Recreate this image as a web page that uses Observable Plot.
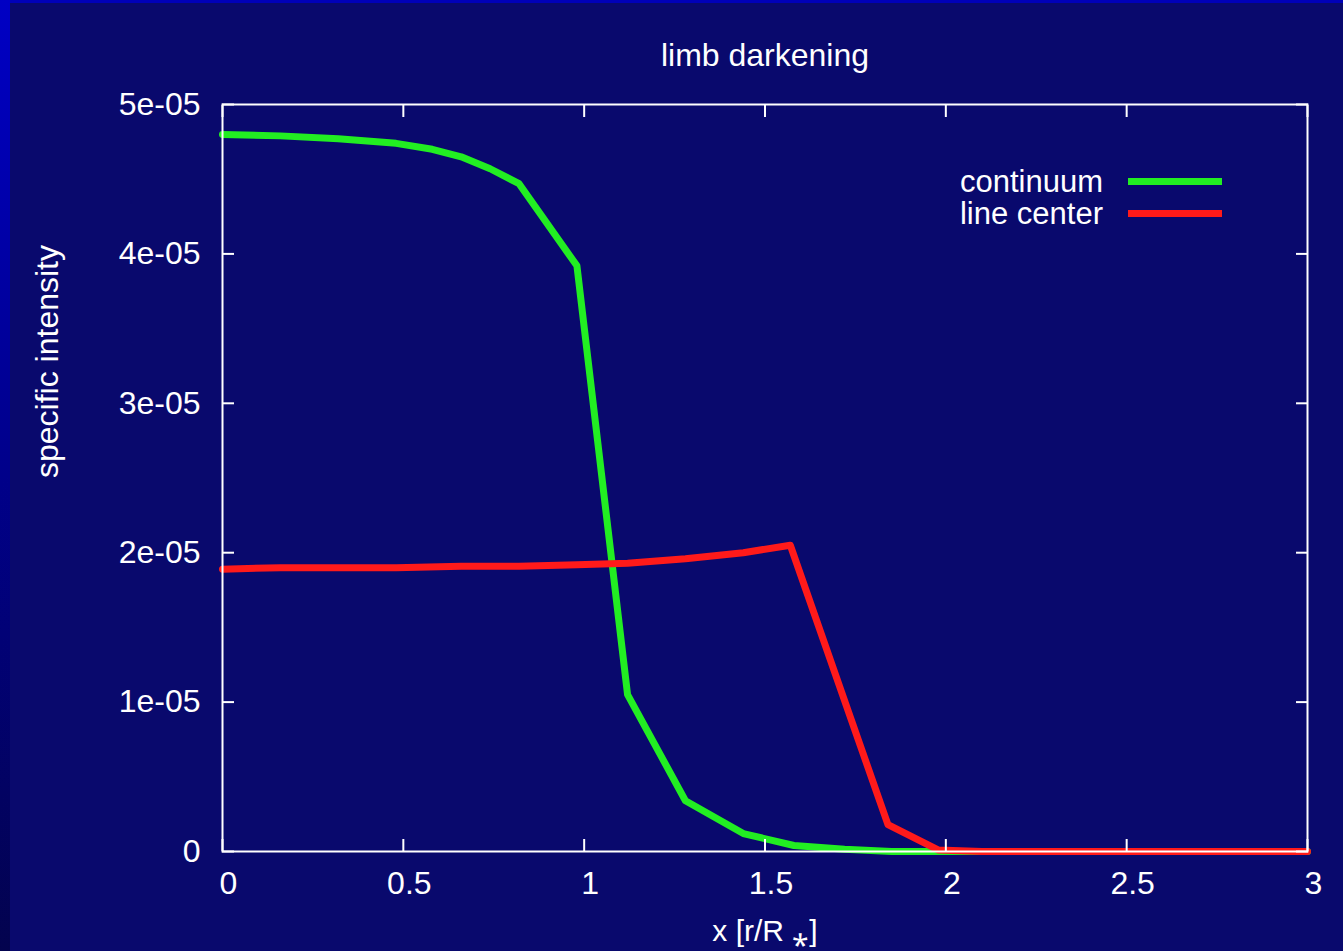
<!DOCTYPE html>
<html>
<head>
<meta charset="utf-8">
<script src="https://cdn.jsdelivr.net/npm/d3@7"></script>
<script src="https://cdn.jsdelivr.net/npm/@observablehq/plot@0.6"></script>
<style>
  html, body { margin: 0; padding: 0; background: #09096d; }
  #wrap { position: relative; width: 1343px; height: 951px; overflow: hidden; background: #09096d; font-family: "Liberation Sans", Arial, Helvetica, sans-serif; color: #fff; }
  #topstrip { position: absolute; left: 0; top: 0; width: 1343px; height: 3px; background: #0000b8; }
  #leftstrip { position: absolute; left: 0; top: 0; width: 10px; height: 951px; background: linear-gradient(#0000c4, #00008a 50%, #03034e); }
  #chart { position: absolute; left: 0; top: 0; }
  .leg { position: absolute; font-size: 31px; line-height: 31px; white-space: nowrap; }
  .legtext { position: absolute; right: 240px; text-align: right; }
  .legbar { position: absolute; width: 94px; height: 7px; }
</style>
</head>
<body>
<div id="wrap">
  <div id="chart"></div>
  <div id="topstrip"></div>
  <div id="leftstrip"></div>
  <div id="legend"></div>
</div>
<script>
// ---- data ----
const contX = [0, 0.16, 0.32, 0.48, 0.58, 0.66, 0.74, 0.82, 0.98, 1.12, 1.28, 1.44, 1.58, 1.72, 1.85, 2.0, 3.0];
const contY = [4.80e-5, 4.79e-5, 4.77e-5, 4.74e-5, 4.70e-5, 4.65e-5, 4.57e-5, 4.47e-5, 3.92e-5, 1.05e-5, 0.34e-5, 0.12e-5, 0.04e-5, 0.015e-5, 0.0, 0.0, 0.0];
const lineX = [0, 0.16, 0.32, 0.48, 0.66, 0.82, 0.98, 1.12, 1.28, 1.44, 1.57, 1.72, 1.84, 1.98, 2.1, 3.0];
const lineY = [1.89e-5, 1.90e-5, 1.90e-5, 1.90e-5, 1.91e-5, 1.91e-5, 1.92e-5, 1.93e-5, 1.96e-5, 2.00e-5, 2.05e-5, 1.01e-5, 0.18e-5, 0.01e-5, 0.0, 0.0];
const seriesNames = ["continuum", "line center"];
const seriesColors = ["#22ee22", "#ff1a1a"];
const xTicks = [0, 0.5, 1, 1.5, 2, 2.5, 3];
const xTickLabels = ["0", "0.5", "1", "1.5", "2", "2.5", "3"];
const yTicks = [0, 1e-5, 2e-5, 3e-5, 4e-5, 5e-5];
const yTickLabels = ["0", "1e-05", "2e-05", "3e-05", "4e-05", "5e-05"];
const titleText = "limb darkening";
const xLabel = "x [r/R \u204E]";
const yLabel = "specific intensity";

const cont = contX.map((x, i) => ({x, y: contY[i]}));
const lc = lineX.map((x, i) => ({x, y: lineY[i]}));

const W = 1343, H = 951;
const font = 32;
const white = "#ffffff";

const chart = Plot.plot({
  width: W,
  height: H,
  marginLeft: 222,
  marginRight: 36,
  marginTop: 104,
  marginBottom: 100,
  style: { background: "transparent", color: white, fontFamily: '"Liberation Sans", Arial, Helvetica, sans-serif', fontSize: font + "px", overflow: "visible" },
  x: { domain: [0, 3] },
  y: { domain: [0, 5e-5] },
  marks: [
    Plot.line(cont, {x: "x", y: "y", stroke: seriesColors[0], strokeWidth: 7, strokeLinejoin: "round"}),
    Plot.line(lc, {x: "x", y: "y", stroke: seriesColors[1], strokeWidth: 7, strokeLinejoin: "round"}),
    Plot.frame({stroke: white, strokeWidth: 2}),
    Plot.axisX(xTicks, {anchor: "bottom", tickSize: -12, stroke: white, strokeWidth: 2, tickFormat: () => "", label: null}),
    Plot.axisX(xTicks, {anchor: "bottom", tickSize: 0, tickPadding: 20, dx: 6, fill: white, fontSize: font, tickFormat: (d) => xTickLabels[xTicks.indexOf(d)], label: null}),
    Plot.axisX(xTicks, {anchor: "top", tickSize: -12, stroke: white, strokeWidth: 2, tickFormat: () => "", label: null}),
    Plot.axisY(yTicks, {anchor: "left", tickSize: -12, tickPadding: 34, stroke: white, strokeWidth: 2, fill: white, fontSize: font, tickFormat: (d) => yTickLabels[yTicks.indexOf(d)], label: null}),
    Plot.axisY(yTicks, {anchor: "right", tickSize: -12, stroke: white, strokeWidth: 2, tickFormat: () => "", label: null}),
    Plot.text([titleText], {frameAnchor: "top", dy: -49, text: (d) => d, fill: white, fontSize: font, lineAnchor: "middle"}),
    Plot.text([xLabel], {frameAnchor: "bottom", dy: 80, text: (d) => d, fill: white, fontSize: 30, lineAnchor: "middle"}),
    Plot.text([yLabel], {frameAnchor: "left", dx: -175, rotate: -90, text: (d) => d, fill: white, fontSize: font, lineAnchor: "middle"})
  ]
});
document.getElementById("chart").appendChild(chart);

// legend
const legend = document.getElementById("legend");
seriesNames.forEach((name, i) => {
  const cy = 181 + i * 32;
  const t = document.createElement("div");
  t.className = "leg legtext";
  t.style.top = (cy - 15.5) + "px";
  t.textContent = name;
  legend.appendChild(t);
  const b = document.createElement("div");
  b.className = "legbar";
  b.style.left = "1128px";
  b.style.top = (cy - 3) + "px";
  b.style.background = seriesColors[i];
  legend.appendChild(b);
});
</script>
</body>
</html>
